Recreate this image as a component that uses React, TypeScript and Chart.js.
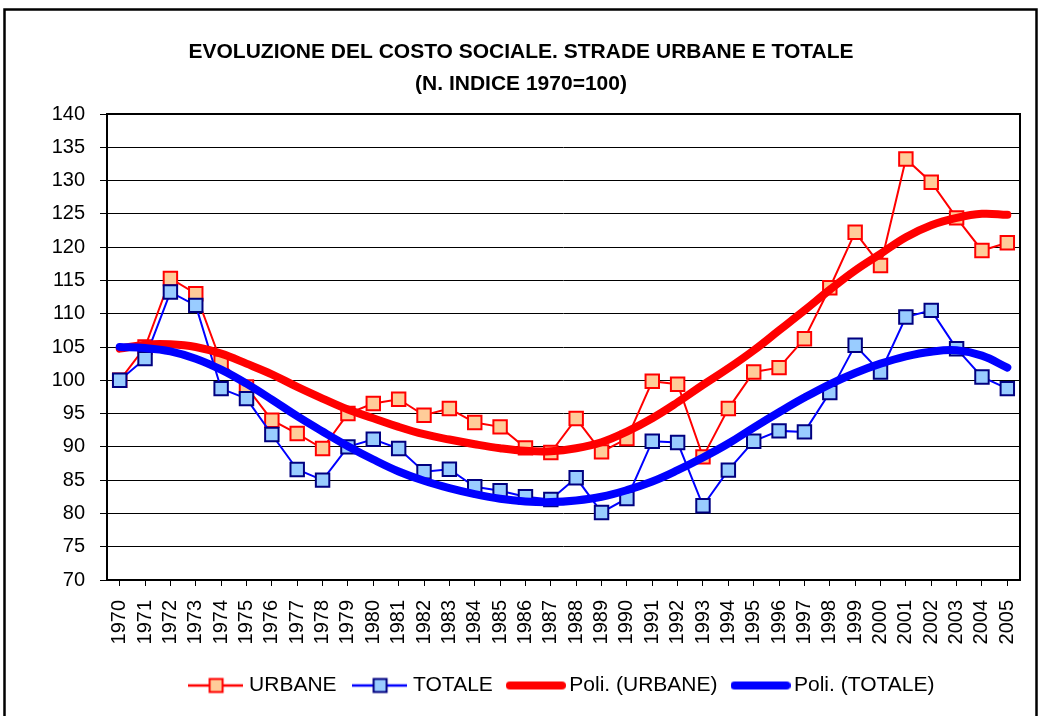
import React, { useEffect, useRef } from 'react';
import { Chart, registerables } from 'chart.js';

Chart.register(...registerables);

const years = [
  '1970', '1971', '1972', '1973', '1974', '1975', '1976', '1977', '1978', '1979',
  '1980', '1981', '1982', '1983', '1984', '1985', '1986', '1987', '1988', '1989',
  '1990', '1991', '1992', '1993', '1994', '1995', '1996', '1997', '1998', '1999',
  '2000', '2001', '2002', '2003', '2004', '2005',
];

const urbane = [
  100, 105, 115.3, 113, 102.7, 99.0, 94.0, 92.0, 89.75, 95.0,
  96.5, 97.15, 94.75, 95.75, 93.65, 93.0, 89.85, 89.15, 94.25, 89.25,
  91.25, 99.85, 99.4, 88.5, 95.75, 101.25, 101.9, 106.25, 113.9, 122.25,
  117.25, 133.25, 129.75, 124.4, 119.5, 120.65,
];

const totale = [
  100, 103.25, 113.25, 111.25, 98.75, 97.25, 91.85, 86.6, 85.0, 90.0,
  91.15, 89.75, 86.25, 86.65, 84.0, 83.4, 82.5, 82.1, 85.35, 80.15,
  82.25, 90.85, 90.65, 81.15, 86.5, 90.85, 92.4, 92.25, 98.15, 105.25,
  101.25, 109.5, 110.5, 104.75, 100.5, 98.75,
];

const poliUrbane = [
  104.75, 105.35, 105.4, 105.0, 104.0, 102.5, 100.9, 99.0, 97.25, 95.6,
  94.3, 93.0, 91.9, 91.1, 90.4, 89.8, 89.4, 89.35, 89.8, 90.7,
  92.3, 94.3, 96.7, 99.3, 101.8, 104.5, 107.5, 110.5, 113.6, 116.5,
  119.0, 121.5, 123.3, 124.4, 125.0, 124.85,
];

const poliTotale = [
  105.0, 104.85, 104.35, 103.25, 101.6, 99.5, 97.1, 94.6, 92.3, 90.1,
  88.1, 86.3, 84.9, 83.8, 82.9, 82.2, 81.8, 81.7, 81.95, 82.5,
  83.5, 84.8, 86.5, 88.4, 90.5, 92.9, 95.2, 97.4, 99.4, 101.1,
  102.5, 103.6, 104.3, 104.5, 103.7, 101.9,
];

const yMin = 70;
const yMax = 140;
const yStep = 5;

const titleLines = [
  'EVOLUZIONE DEL COSTO SOCIALE. STRADE URBANE E TOTALE',
  '(N. INDICE 1970=100)',
];

const seriesNames = ['URBANE', 'TOTALE', 'Poli. (URBANE)', 'Poli. (TOTALE)'];

const FONT = "'Liberation Sans', Arial, Helvetica, sans-serif";

function markerIcon(lineColor: string, fill: string, border: string): HTMLCanvasElement {
  const c = document.createElement('canvas');
  c.width = 55;
  c.height = 18;
  const ctx = c.getContext('2d')!;
  ctx.strokeStyle = lineColor;
  ctx.lineWidth = 2.5;
  ctx.beginPath();
  ctx.moveTo(0, 9);
  ctx.lineTo(55, 9);
  ctx.stroke();
  ctx.fillStyle = fill;
  ctx.fillRect(21.5, 2.5, 13, 13);
  ctx.strokeStyle = border;
  ctx.lineWidth = 2;
  ctx.strokeRect(21.5, 2.5, 13, 13);
  return c;
}

function thickIcon(color: string): HTMLCanvasElement {
  const c = document.createElement('canvas');
  c.width = 60;
  c.height = 12;
  const ctx = c.getContext('2d')!;
  ctx.strokeStyle = color;
  ctx.lineWidth = 8;
  ctx.lineCap = 'round';
  ctx.beginPath();
  ctx.moveTo(4, 6);
  ctx.lineTo(56, 6);
  ctx.stroke();
  return c;
}

const plotBorder = {
  id: 'plotBorder',
  beforeDatasetsDraw(chart: any) {
    const { ctx, chartArea } = chart;
    ctx.save();
    ctx.strokeStyle = '#000';
    ctx.lineWidth = 2;
    ctx.strokeRect(chartArea.left, chartArea.top, chartArea.right - chartArea.left, chartArea.bottom - chartArea.top);
    ctx.restore();
  },
};

const frame = {
  id: 'frame',
  afterDraw(chart: any) {
    const { ctx } = chart;
    ctx.save();
    ctx.strokeStyle = '#000';
    ctx.lineWidth = 2.5;
    ctx.strokeRect(4.5, 9.5, 1032, 800);
    ctx.restore();
  },
};

export default function App() {
  const ref = useRef<HTMLCanvasElement>(null);

  useEffect(() => {
    const icons = [
      markerIcon('#FF0000', '#FFCC99', '#FF0000'),
      markerIcon('#0000FF', '#99CCFF', '#000080'),
      thickIcon('#FF0000'),
      thickIcon('#0000FF'),
    ];

    const chart = new Chart(ref.current as HTMLCanvasElement, {
      type: 'line',
      data: {
        labels: years,
        datasets: [
          {
            label: seriesNames[0],
            data: urbane,
            order: 4,
            borderColor: '#FF0000',
            borderWidth: 2,
            pointStyle: 'rect',
            pointRadius: 9.5,
            pointBorderWidth: 2,
            pointBackgroundColor: '#FFCC99',
            pointBorderColor: '#FF0000',
            tension: 0,
          },
          {
            label: seriesNames[1],
            data: totale,
            order: 3,
            borderColor: '#0000FF',
            borderWidth: 2,
            pointStyle: 'rect',
            pointRadius: 9.5,
            pointBorderWidth: 2,
            pointBackgroundColor: '#99CCFF',
            pointBorderColor: '#000080',
            tension: 0,
          },
          {
            label: seriesNames[2],
            data: poliUrbane,
            order: 2,
            borderColor: '#FF0000',
            borderWidth: 8,
            borderCapStyle: 'round',
            pointRadius: 0,
            tension: 0.4,
          },
          {
            label: seriesNames[3],
            data: poliTotale,
            order: 1,
            borderColor: '#0000FF',
            borderWidth: 8,
            borderCapStyle: 'round',
            pointRadius: 0,
            tension: 0.4,
          },
        ],
      },
      options: {
        responsive: false,
        animation: false,
        devicePixelRatio: 1,
        events: [],
        font: { family: FONT },
        layout: { padding: { left: 11, right: 11, top: 0, bottom: 10 } },
        scales: {
          x: {
            type: 'category',
            offset: true,
            grid: {
              display: true,
              drawOnChartArea: false,
              drawTicks: true,
              tickLength: 6,
              color: '#000',
              lineWidth: 1,
            },
            border: { display: false },
            ticks: {
              autoSkip: false,
              minRotation: 90,
              maxRotation: 90,
              padding: 14,
              color: '#000',
              font: { family: FONT, size: 20 },
            },
            afterFit: (s: any) => {
              s.height = 75;
              s.paddingLeft = 0;
              s.paddingRight = 0;
            },
          },
          y: {
            min: yMin,
            max: yMax,
            ticks: {
              stepSize: yStep,
              padding: 15,
              color: '#000',
              font: { family: FONT, size: 20 },
            },
            grid: { color: '#000', lineWidth: 1, tickLength: 7 },
            border: { display: false },
            afterFit: (s: any) => { s.width = 96; },
          },
          yR: {
            position: 'right',
            display: true,
            grid: { display: false },
            ticks: { display: false },
            border: { display: false },
            afterFit: (s: any) => { s.width = 11; },
          },
        },
        plugins: {
          tooltip: { enabled: false },
          title: {
            display: true,
            text: titleLines,
            color: '#000',
            font: { family: FONT, size: 21, weight: 'bold', lineHeight: 32 / 21 },
            padding: { top: 36, bottom: 14 },
          },
          legend: {
            position: 'bottom',
            fullSize: false,
            labels: {
              usePointStyle: true,
              pointStyleWidth: 46,
              padding: 20,
              color: '#000',
              font: { family: FONT, size: 21 },
              generateLabels: (ch: any) => {
                const items = Chart.defaults.plugins.legend.labels.generateLabels(ch);
                return items.map((it: any) => ({ ...it, pointStyle: icons[it.datasetIndex], rotation: 0 }));
              },
              sort: (a: any, b: any) => a.datasetIndex - b.datasetIndex,
            },
          },
        },
      },
      plugins: [plotBorder, frame],
    } as any);

    return () => chart.destroy();
  }, []);

  return (
    <div style={{ position: 'fixed', left: 0, top: 0, width: 1042, height: 716, background: '#fff' }}>
      <canvas ref={ref} width={1042} height={716} style={{ display: 'block', width: 1042, height: 716 }} />
    </div>
  );
}
